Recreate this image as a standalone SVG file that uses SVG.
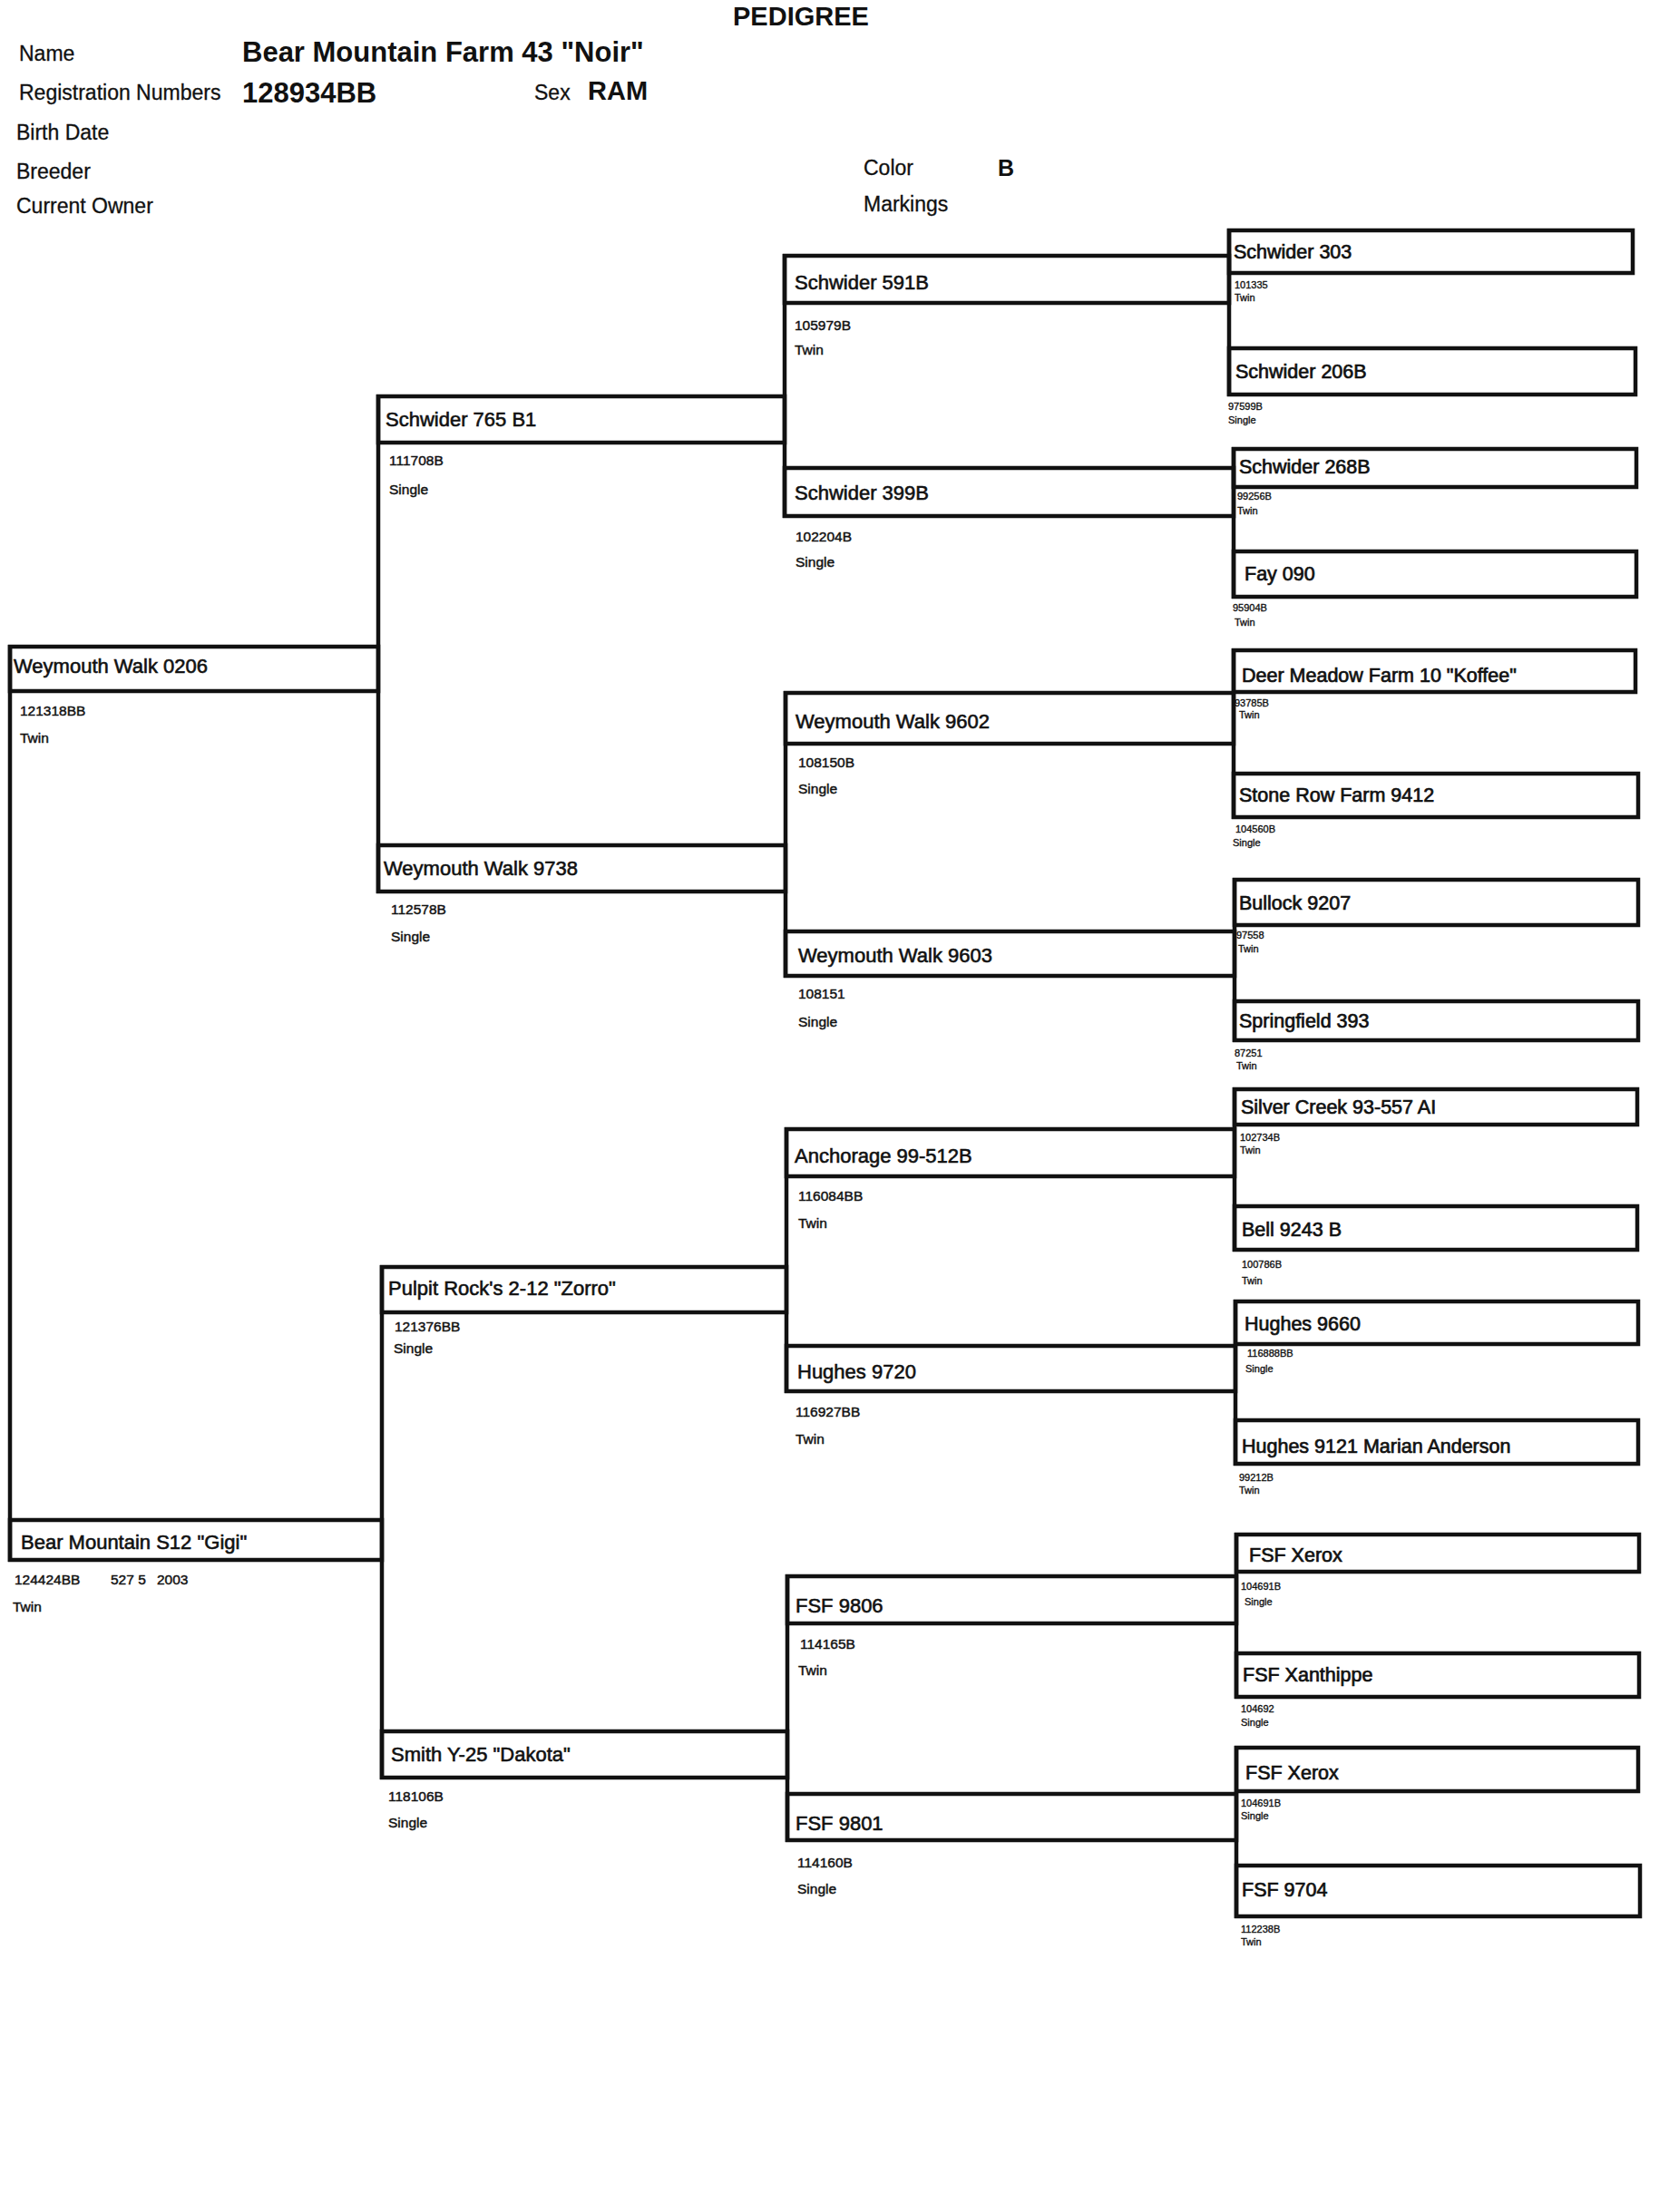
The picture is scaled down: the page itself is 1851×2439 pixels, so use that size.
<svg xmlns="http://www.w3.org/2000/svg" width="1851" height="2439" viewBox="0 0 1851 2439">
<style>
text{font-family:"Liberation Sans",Arial,sans-serif;fill:#111}
.ln{stroke:#111;stroke-width:4.5;fill:none}
.bx{stroke:#111;stroke-width:4.5;fill:none}
.hd{font-size:23px;stroke:#111;stroke-width:0.3}
.hb{font-size:31px;font-weight:bold}
.nm{font-size:22px;stroke:#111;stroke-width:0.6}
.n4{font-size:21.5px;stroke:#111;stroke-width:0.7}
.sb{font-size:15.5px;stroke:#111;stroke-width:0.45}
.tn{font-size:11px;stroke:#111;stroke-width:0.35}
</style>
<rect width="1851" height="2439" fill="#fff"/>

<g id="header">
<text x="808" y="28" style="font-size:29px;font-weight:bold">PEDIGREE</text>
<text x="21" y="67" class="hd">Name</text>
<text x="267" y="68" class="hb">Bear Mountain Farm 43 "Noir"</text>
<text x="21" y="110" class="hd">Registration Numbers</text>
<text x="267" y="113" class="hb">128934BB</text>
<text x="589" y="110" class="hd">Sex</text>
<text x="648" y="110" style="font-size:29px;font-weight:bold">RAM</text>
<text x="18" y="154" class="hd">Birth Date</text>
<text x="18" y="197" class="hd">Breeder</text>
<text x="18" y="235" class="hd">Current Owner</text>
<text x="952" y="193" class="hd">Color</text>
<text x="1100" y="194" style="font-size:25px;font-weight:bold">B</text>
<text x="952" y="233" class="hd">Markings</text>
</g>

<g id="connectors">
<line class="ln" x1="11" y1="711" x2="11" y2="1722"/>
<line class="ln" x1="417" y1="435" x2="417" y2="985"/>
<line class="ln" x1="421" y1="1395" x2="421" y2="1962"/>
<line class="ln" x1="865" y1="280" x2="865" y2="571"/>
<line class="ln" x1="866" y1="762" x2="866" y2="1078"/>
<line class="ln" x1="867" y1="1243" x2="867" y2="1536"/>
<line class="ln" x1="868" y1="1736" x2="868" y2="2031"/>
<line class="ln" x1="1355" y1="252" x2="1355" y2="437"/>
<line class="ln" x1="1360" y1="493" x2="1360" y2="660"/>
<line class="ln" x1="1360" y1="715" x2="1360" y2="903"/>
<line class="ln" x1="1361" y1="968" x2="1361" y2="1149"/>
<line class="ln" x1="1361" y1="1199" x2="1361" y2="1380"/>
<line class="ln" x1="1362" y1="1433" x2="1362" y2="1616"/>
<line class="ln" x1="1363" y1="1690" x2="1363" y2="1873"/>
<line class="ln" x1="1363" y1="1925" x2="1363" y2="2115"/>
</g>

<!-- Generation 1 -->
<g id="weymouth-walk-0206">
<rect class="bx" x="11" y="713" width="406" height="49"/>
<text x="15" y="742" class="nm">Weymouth Walk 0206</text>
<text x="22" y="789" class="sb">121318BB</text>
<text x="22" y="819" class="sb">Twin</text>
</g>
<g id="bear-mountain-s12">
<rect class="bx" x="11" y="1676" width="410" height="44"/>
<text x="23" y="1708" class="nm">Bear Mountain S12 "Gigi"</text>
<text x="16" y="1747" class="sb">124424BB</text>
<text x="122" y="1747" class="sb">527 5</text>
<text x="173" y="1747" class="sb">2003</text>
<text x="14" y="1777" class="sb">Twin</text>
</g>

<!-- Generation 2 -->
<g id="schwider-765-b1">
<rect class="bx" x="417" y="437" width="448" height="51"/>
<text x="425" y="470" class="nm">Schwider 765 B1</text>
<text x="429" y="513" class="sb">111708B</text>
<text x="429" y="545" class="sb">Single</text>
</g>
<g id="weymouth-walk-9738">
<rect class="bx" x="417" y="932" width="449" height="51"/>
<text x="423" y="965" class="nm">Weymouth Walk 9738</text>
<text x="431" y="1008" class="sb">112578B</text>
<text x="431" y="1038" class="sb">Single</text>
</g>
<g id="pulpit-rocks-2-12">
<rect class="bx" x="421" y="1397" width="446" height="50"/>
<text x="428" y="1428" class="nm">Pulpit Rock's 2-12 "Zorro"</text>
<text x="435" y="1468" class="sb">121376BB</text>
<text x="434" y="1492" class="sb">Single</text>
</g>
<g id="smith-y-25">
<rect class="bx" x="421" y="1909" width="447" height="51"/>
<text x="431" y="1942" class="nm">Smith Y-25 "Dakota"</text>
<text x="428" y="1986" class="sb">118106B</text>
<text x="428" y="2015" class="sb">Single</text>
</g>

<!-- Generation 3 -->
<g id="schwider-591b">
<rect class="bx" x="865" y="282" width="490" height="52"/>
<text x="876" y="319" class="nm">Schwider 591B</text>
<text x="876" y="364" class="sb">105979B</text>
<text x="876" y="391" class="sb">Twin</text>
</g>
<g id="schwider-399b">
<rect class="bx" x="865" y="516" width="495" height="53"/>
<text x="876" y="551" class="nm">Schwider 399B</text>
<text x="877" y="597" class="sb">102204B</text>
<text x="877" y="625" class="sb">Single</text>
</g>
<g id="weymouth-walk-9602">
<rect class="bx" x="866" y="764" width="494" height="56"/>
<text x="877" y="803" class="nm">Weymouth Walk 9602</text>
<text x="880" y="846" class="sb">108150B</text>
<text x="880" y="875" class="sb">Single</text>
</g>
<g id="weymouth-walk-9603">
<rect class="bx" x="866" y="1027" width="495" height="49"/>
<text x="880" y="1061" class="nm">Weymouth Walk 9603</text>
<text x="880" y="1101" class="sb">108151</text>
<text x="880" y="1132" class="sb">Single</text>
</g>
<g id="anchorage-99-512b">
<rect class="bx" x="867" y="1245" width="494" height="52"/>
<text x="876" y="1282" class="nm">Anchorage 99-512B</text>
<text x="880" y="1324" class="sb">116084BB</text>
<text x="880" y="1354" class="sb">Twin</text>
</g>
<g id="hughes-9720">
<rect class="bx" x="867" y="1484" width="495" height="50"/>
<text x="879" y="1520" class="nm">Hughes 9720</text>
<text x="877" y="1562" class="sb">116927BB</text>
<text x="877" y="1592" class="sb">Twin</text>
</g>
<g id="fsf-9806">
<rect class="bx" x="868" y="1738" width="495" height="52"/>
<text x="877" y="1778" class="nm">FSF 9806</text>
<text x="882" y="1818" class="sb">114165B</text>
<text x="880" y="1847" class="sb">Twin</text>
</g>
<g id="fsf-9801">
<rect class="bx" x="868" y="1978" width="495" height="51"/>
<text x="877" y="2018" class="nm">FSF 9801</text>
<text x="879" y="2059" class="sb">114160B</text>
<text x="879" y="2088" class="sb">Single</text>
</g>

<!-- Generation 4 -->
<g id="schwider-303">
<rect class="bx" x="1355" y="254" width="445" height="47"/>
<text x="1360" y="285" class="n4">Schwider 303</text>
<text x="1361" y="318" class="tn">101335</text>
<text x="1361" y="332" class="tn">Twin</text>
</g>
<g id="schwider-206b">
<rect class="bx" x="1355" y="384" width="448" height="51"/>
<text x="1362" y="417" class="n4">Schwider 206B</text>
<text x="1354" y="452" class="tn">97599B</text>
<text x="1354" y="467" class="tn">Single</text>
</g>
<g id="schwider-268b">
<rect class="bx" x="1360" y="495" width="444" height="42"/>
<text x="1366" y="522" class="n4">Schwider 268B</text>
<text x="1364" y="551" class="tn">99256B</text>
<text x="1364" y="567" class="tn">Twin</text>
</g>
<g id="fay-090">
<rect class="bx" x="1360" y="608" width="444" height="50"/>
<text x="1372" y="640" class="n4">Fay 090</text>
<text x="1359" y="674" class="tn">95904B</text>
<text x="1361" y="690" class="tn">Twin</text>
</g>
<g id="deer-meadow-farm-10">
<rect class="bx" x="1360" y="717" width="443" height="46"/>
<text x="1369" y="752" class="n4">Deer Meadow Farm 10 "Koffee"</text>
<text x="1361" y="779" class="tn">93785B</text>
<text x="1366" y="792" class="tn">Twin</text>
</g>
<g id="stone-row-farm-9412">
<rect class="bx" x="1360" y="853" width="446" height="48"/>
<text x="1366" y="884" class="n4">Stone Row Farm 9412</text>
<text x="1362" y="918" class="tn">104560B</text>
<text x="1359" y="933" class="tn">Single</text>
</g>
<g id="bullock-9207">
<rect class="bx" x="1361" y="970" width="445" height="50"/>
<text x="1366" y="1003" class="n4">Bullock 9207</text>
<text x="1363" y="1035" class="tn">97558</text>
<text x="1365" y="1050" class="tn">Twin</text>
</g>
<g id="springfield-393">
<rect class="bx" x="1361" y="1104" width="445" height="43"/>
<text x="1366" y="1133" class="n4">Springfield 393</text>
<text x="1361" y="1165" class="tn">87251</text>
<text x="1363" y="1179" class="tn">Twin</text>
</g>
<g id="silver-creek-93-557">
<rect class="bx" x="1361" y="1201" width="444" height="39"/>
<text x="1368" y="1228" class="n4">Silver Creek 93-557  AI</text>
<text x="1367" y="1258" class="tn">102734B</text>
<text x="1367" y="1272" class="tn">Twin</text>
</g>
<g id="bell-9243-b">
<rect class="bx" x="1361" y="1330" width="444" height="48"/>
<text x="1369" y="1363" class="n4">Bell 9243 B</text>
<text x="1369" y="1398" class="tn">100786B</text>
<text x="1369" y="1416" class="tn">Twin</text>
</g>
<g id="hughes-9660">
<rect class="bx" x="1362" y="1435" width="444" height="47"/>
<text x="1372" y="1467" class="n4">Hughes 9660</text>
<text x="1375" y="1496" class="tn">116888BB</text>
<text x="1373" y="1513" class="tn">Single</text>
</g>
<g id="hughes-9121">
<rect class="bx" x="1362" y="1566" width="444" height="48"/>
<text x="1369" y="1602" class="n4">Hughes 9121 Marian Anderson</text>
<text x="1366" y="1633" class="tn">99212B</text>
<text x="1366" y="1647" class="tn">Twin</text>
</g>
<g id="fsf-xerox-1">
<rect class="bx" x="1363" y="1692" width="444" height="41"/>
<text x="1377" y="1722" class="n4">FSF Xerox</text>
<text x="1368" y="1753" class="tn">104691B</text>
<text x="1372" y="1770" class="tn">Single</text>
</g>
<g id="fsf-xanthippe">
<rect class="bx" x="1363" y="1823" width="444" height="48"/>
<text x="1370" y="1854" class="n4">FSF Xanthippe</text>
<text x="1368" y="1888" class="tn">104692</text>
<text x="1368" y="1903" class="tn">Single</text>
</g>
<g id="fsf-xerox-2">
<rect class="bx" x="1363" y="1927" width="443" height="48"/>
<text x="1373" y="1962" class="n4">FSF Xerox</text>
<text x="1368" y="1992" class="tn">104691B</text>
<text x="1368" y="2006" class="tn">Single</text>
</g>
<g id="fsf-9704">
<rect class="bx" x="1363" y="2057" width="445" height="56"/>
<text x="1369" y="2091" class="n4">FSF 9704</text>
<text x="1368" y="2131" class="tn">112238B</text>
<text x="1368" y="2145" class="tn">Twin</text>
</g>
</svg>
